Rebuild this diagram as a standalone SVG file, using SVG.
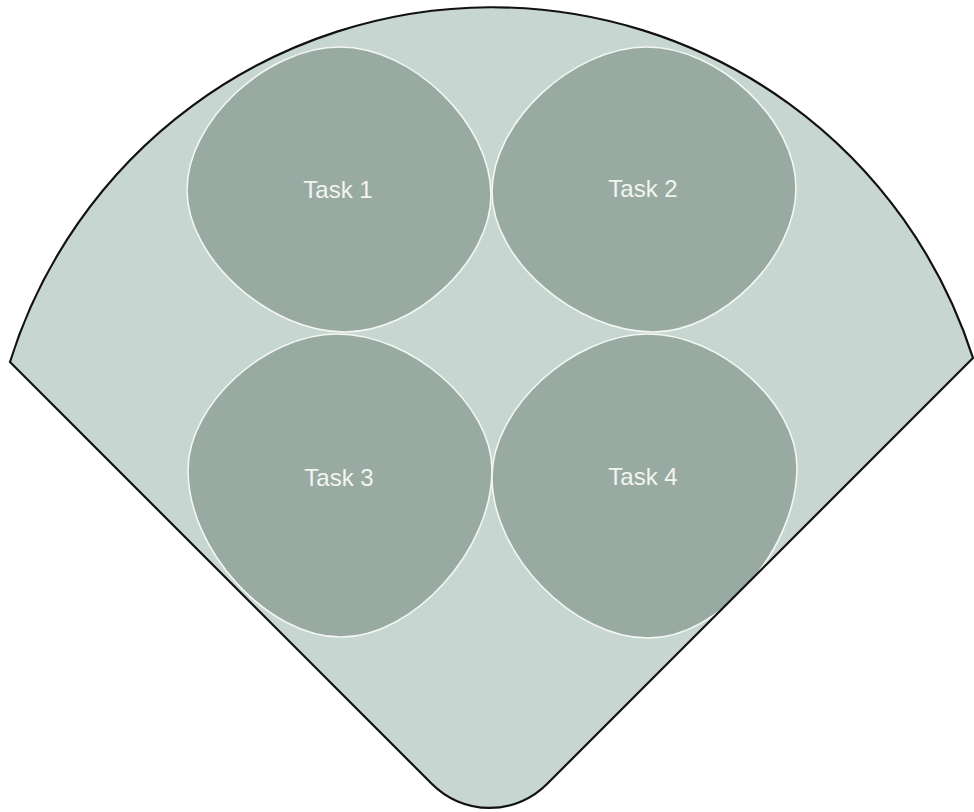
<svg xmlns="http://www.w3.org/2000/svg" width="974" height="812" viewBox="0 0 974 812">
  <style>
    .fanfill { fill: #c8d6d1; }
    .fanline { fill: none; stroke: #111; stroke-width: 2.2; }
    .blob { fill: #99aaa3; stroke: #f4f6f2; stroke-width: 1.6; }
    .lbl { font-family: "Liberation Sans", Arial, sans-serif; font-size: 24px; fill: #f2f4f1; text-anchor: middle; }
  </style>
  <defs>
    <path id="fanShape" d="M 10,362 A 505 505 0 0 1 973,358 L 547,784 A 81 81 0 0 1 432,784 Z"/>
    <clipPath id="fanClip">
      <use href="#fanShape"/>
    </clipPath>
  </defs>
  <rect width="974" height="812" fill="#ffffff"/>
  <g id="fan">
    <use href="#fanShape" class="fanfill"/>
  </g>
  <g clip-path="url(#fanClip)">
    <g id="task1">
      <path class="blob" d="M 187,190 C 187,121.4 266.6,47 340,47 C 412.5,47 491,124 491,195 C 491,260.8 415.1,332 345,332 C 269.2,332 187,258.2 187,190 Z"/>
      <text class="lbl" x="338" y="198">Task 1</text>
    </g>
    <g id="task2">
      <path class="blob" d="M 492,192 C 492,122.4 572.6,47 647,47 C 718.5,47 796,120.3 796,188 C 796,257.1 721.6,332 653,332 C 575.7,332 492,259.2 492,192 Z"/>
      <text class="lbl" x="643" y="197">Task 2</text>
    </g>
    <g id="task3">
      <path class="blob" d="M 188,470 C 188,404.7 265.5,334 337,334 C 411.4,334 492,404.7 492,470 C 492,550.2 413.5,637 341,637 C 267.6,637 188,550.2 188,470 Z"/>
      <text class="lbl" x="339" y="486">Task 3</text>
    </g>
    <g id="task4">
      <path class="blob" d="M 492,477 C 492,408.4 573.1,334 648,334 C 719.5,334 797,403.2 797,467 C 797,549.1 719.5,638 648,638 C 573.1,638 492,554.3 492,477 Z"/>
      <text class="lbl" x="643" y="485">Task 4</text>
    </g>
  </g>
  <g id="fan-outline">
    <use href="#fanShape" class="fanline"/>
  </g>
  <g id="connectors"></g>
</svg>
